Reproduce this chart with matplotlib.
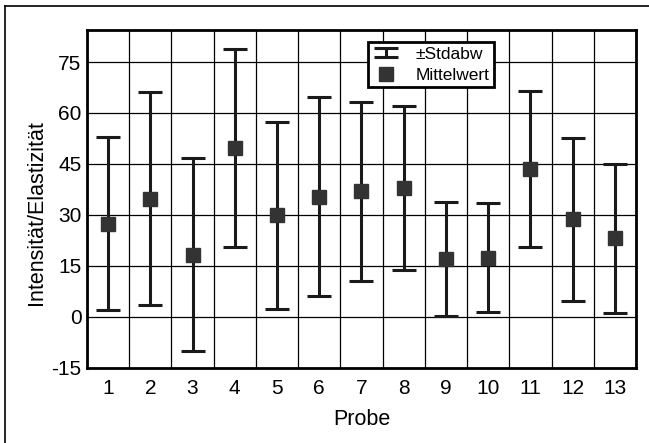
import numpy as np
import matplotlib.pyplot as plt
from matplotlib.lines import Line2D
from matplotlib.legend_handler import HandlerErrorbar

plt.switch_backend('Agg')
plt.rcParams['font.family'] = ['Liberation Sans', 'DejaVu Sans']
plt.rcParams['axes.unicode_minus'] = False

# Data
proben = [1, 2, 3, 4, 5, 6, 7, 8, 9, 10, 11, 12, 13]
mittelwert = [27.4, 34.8, 18.3, 49.6, 29.9, 35.4, 36.9, 37.9, 17.0, 17.4, 43.4, 28.7, 23.1]
stdabw = [25.4, 31.4, 28.3, 29.2, 27.5, 29.3, 26.4, 24.1, 16.7, 16.0, 23.0, 24.0, 21.9]
y_ticks = [-15, 0, 15, 30, 45, 60, 75]

fig = plt.figure(figsize=(6.49, 4.43), dpi=100)
fig.set_facecolor('white')
ax = fig.add_axes([0.134, 0.170, 0.846, 0.762])

# Error bars (standard deviation)
eb = ax.errorbar(proben, mittelwert, yerr=stdabw, fmt='none', ecolor='#1a1a1a',
                 elinewidth=2.2, capsize=8.5, capthick=2.2, zorder=3)
# Mean markers
ax.plot(proben, mittelwert, 's', color='#333333', markersize=9.5, zorder=4)

ax.set_xlim(0.5, 13.5)
ax.set_ylim(-15, 84.4)
ax.set_xticks(proben)
ax.set_yticks(y_ticks)
ax.set_xticks(np.arange(0.5, 14, 1), minor=True)

# Grid: horizontal at major y ticks, vertical between samples
ax.grid(True, axis='y', which='major', color='black', linewidth=0.9)
ax.grid(True, axis='x', which='minor', color='black', linewidth=0.9)
ax.set_axisbelow(True)
ax.tick_params(axis='both', which='both', length=0, labelsize=15)
ax.tick_params(axis='y', pad=4)
ax.tick_params(axis='x', pad=8)
for s in ax.spines.values():
    s.set_linewidth(2)

ax.set_xlabel('Probe', fontsize=15.5, labelpad=8)
ax.set_ylabel('Intensität/Elastizität', fontsize=15.5)
ax.yaxis.set_label_coords(-0.073, 0.46)

# Legend
h_mean = Line2D([], [], marker='s', linestyle='none', color='#333333', markersize=9.5)
leg = ax.legend([eb, h_mean], ['±Stdabw', 'Mittelwert'], loc='upper left',
                bbox_to_anchor=(0.512, 0.964), fancybox=False, framealpha=1,
                edgecolor='black', fontsize=12.5, handlelength=1.6,
                borderpad=0.25, labelspacing=0.35, handletextpad=0.9, borderaxespad=0,
                handler_map={type(eb): HandlerErrorbar(yerr_size=0.25)})
leg.get_frame().set_linewidth(2)

# Outer frame lines (top and left)
fig.add_artist(Line2D([0.008, 1.0], [0.986, 0.986], color='black', linewidth=1.2,
                      transform=fig.transFigure))
fig.add_artist(Line2D([0.008, 0.008], [0.0, 0.986], color='black', linewidth=1.2,
                      transform=fig.transFigure))

plt.savefig('out.png', dpi=100)
plt.close(fig)
